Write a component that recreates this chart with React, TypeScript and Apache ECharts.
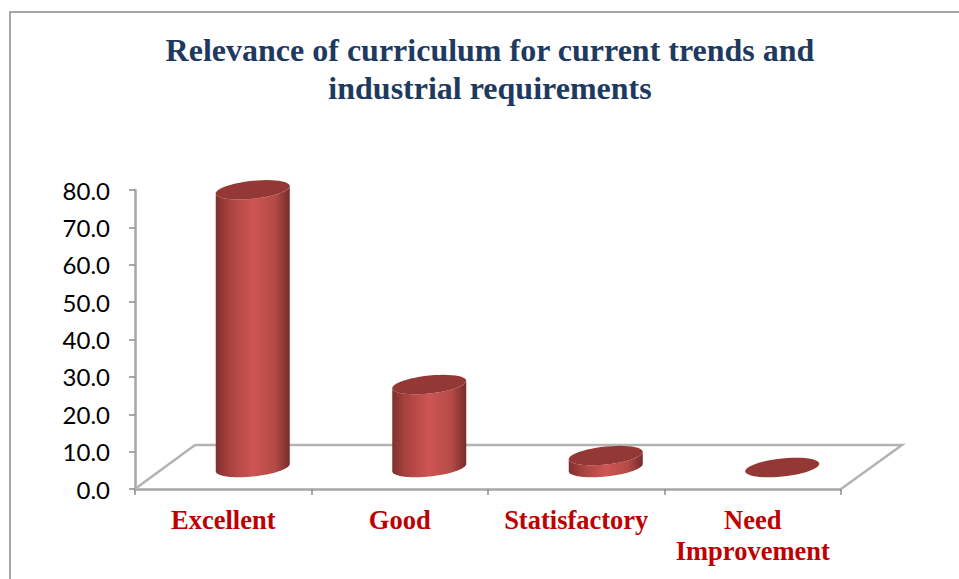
import React, { useEffect, useRef } from "react";
import * as echarts from "echarts";

const titleLines = ["Relevance of curriculum for current trends and", "industrial requirements"];
const categories = ["Excellent", "Good", "Statisfactory", "Need\nImprovement"];
const values = [74.3, 22.2, 3.2, 0];
const yMax = 80;
const yStep = 10;

const GRID = { left: 135, top: 190, width: 706, height: 299 };
const DEPTH_X = 29.5;
const DEPTH_Y = -21.5;
const RX = 37;
const RY = 9;
const SHEAR = 0.1;

function ellipsePts(cx: number, cy: number, from: number, to: number, n = 48) {
  const pts: number[][] = [];
  for (let i = 0; i <= n; i++) {
    const t = from + ((to - from) * i) / n;
    const dx = RX * Math.cos(t);
    pts.push([cx + dx, cy + RY * Math.sin(t) - dx * SHEAR]);
  }
  return pts;
}

function renderCylinder(_params: any, api: any) {
  const idx = api.value(0);
  const val = api.value(1);
  const top = api.coord([idx, val]);
  const base = api.coord([idx, 0]);
  const cx = top[0] + DEPTH_X;
  const topY = top[1] + DEPTH_Y;
  const baseY = base[1] + DEPTH_Y;
  const children: any[] = [];
  if (val > 0) {
    const bodyPts = [...ellipsePts(cx, baseY, 0, Math.PI), ...ellipsePts(cx, topY, Math.PI, 0)];
    children.push({
      type: "polygon",
      shape: { points: bodyPts },
      style: {
        fill: new echarts.graphic.LinearGradient(0, 0, 1, 0, [
          { offset: 0, color: "#7e302e" },
          { offset: 0.18, color: "#a8423f" },
          { offset: 0.5, color: "#cd5653" },
          { offset: 0.8, color: "#b54a47" },
          { offset: 1, color: "#752c2a" },
        ]),
      },
    });
  }
  children.push({
    type: "polygon",
    shape: { points: ellipsePts(cx, topY, 0, Math.PI * 2) },
    style: { fill: "#943836" },
  });
  return { type: "group", children };
}

function renderFloor(_params: any, api: any) {
  const first = api.coord([0, 0]);
  const last = api.coord([categories.length - 1, 0]);
  const band = api.size([1, 0])[0];
  const a = [first[0] - band / 2, first[1]];
  const b = [last[0] + band / 2, last[1]];
  const dx = 60;
  const dy = -44;
  return {
    type: "polyline",
    shape: { points: [a, [a[0] + dx, a[1] + dy], [b[0] + dx + 1, b[1] + dy], b] },
    style: { stroke: "#b3b3b3", lineWidth: 2.5, fill: "none" },
  };
}

export default function App() {
  const ref = useRef<HTMLDivElement>(null);
  useEffect(() => {
    document.body.style.margin = "0";
    const chart = echarts.init(ref.current!, undefined, { renderer: "svg" });
    chart.setOption({
      animation: false,
      backgroundColor: "#ffffff",
      title: {
        text: titleLines.join("\n"),
        left: 485,
        top: 26,
        textAlign: "center",
        textStyle: {
          fontFamily: "Liberation Serif",
          fontWeight: "bold",
          fontSize: 32,
          lineHeight: 38,
          color: "#1f3a5f",
        },
      },
      grid: { ...GRID },
      xAxis: {
        type: "category",
        data: categories,
        boundaryGap: true,
        axisLine: { lineStyle: { color: "#a6a6a6", width: 2.5 } },
        axisTick: { show: true, interval: 0, alignWithLabel: false, length: 6, lineStyle: { color: "#8c8c8c", width: 1.5 } },
        axisLabel: {
          interval: 0,
          margin: 15,
          fontFamily: "Liberation Serif",
          fontWeight: "bold",
          fontSize: 26.5,
          lineHeight: 31,
          color: "#c00000",
        },
      },
      yAxis: {
        type: "value",
        min: 0,
        max: yMax,
        interval: yStep,
        splitLine: { show: false },
        axisLine: { show: true, lineStyle: { color: "#a6a6a6", width: 2.5 } },
        axisTick: { show: true, length: 6, lineStyle: { color: "#8c8c8c", width: 1.5 } },
        axisLabel: {
          margin: 25,
          fontFamily: "Lato",
          fontSize: 24,
          color: "#000000",
          formatter: (v: number) => v.toFixed(1),
        },
      },
      graphic: [
        {
          type: "polyline",
          silent: true,
          shape: { points: [[10, 579], [10, 12], [959, 12]] },
          style: { stroke: "#8a8a8a", fill: "none", lineWidth: 1.5 },
        },
      ],
      series: [
        {
          type: "custom",
          coordinateSystem: "cartesian2d",
          renderItem: renderFloor,
          data: [[0, 0]],
          encode: { x: 0, y: 1 },
          z: 1,
          silent: true,
          clip: false,
        },
        {
          type: "custom",
          coordinateSystem: "cartesian2d",
          renderItem: renderCylinder,
          data: values.map((v, i) => [i, v]),
          encode: { x: 0, y: 1 },
          z: 2,
        },
      ],
    });
    return () => chart.dispose();
  }, []);
  return <div ref={ref} style={{ width: 959, height: 579 }} />;
}
